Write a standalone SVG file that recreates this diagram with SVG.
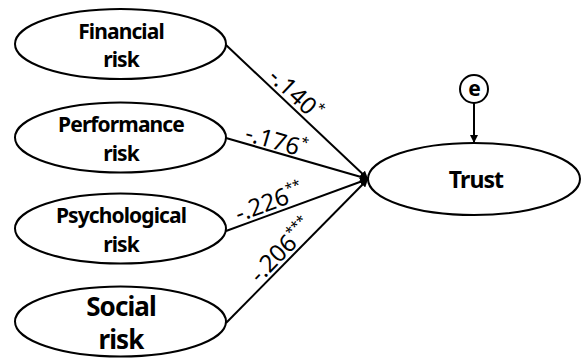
<svg xmlns="http://www.w3.org/2000/svg" width="581" height="358" viewBox="0 0 581 358">
<defs>
<style>
.node ellipse, .node circle { fill: #fff; stroke: #000; stroke-width: 2; }
.lbl { font-family: "Noto Sans", "Open Sans", "Liberation Sans", sans-serif; font-weight: bold; fill: #000; text-anchor: middle; letter-spacing: -0.9px; }
.conn line { stroke: #000; stroke-width: 2; }
.coef { font-family: "Noto Sans", "Open Sans", "Liberation Sans", sans-serif; font-size: 24px; fill: #000; text-anchor: middle; }
.sup { font-size: 14px; }
</style>
<marker id="arr" viewBox="0 0 10 10" refX="10" refY="5" markerWidth="4" markerHeight="4" orient="auto" markerUnits="strokeWidth">
<path d="M0,0 L10,5 L0,10 z" fill="#000"/>
</marker>
</defs>
<rect width="581" height="358" fill="#fff"/>
<g id="connectors" class="conn">
<line x1="226" y1="45" x2="368" y2="179" marker-end="url(#arr)"/>
<line x1="226" y1="138" x2="368" y2="179" marker-end="url(#arr)"/>
<line x1="226" y1="231" x2="368" y2="179" marker-end="url(#arr)"/>
<line x1="226" y1="323" x2="368" y2="179" marker-end="url(#arr)"/>
<line x1="474" y1="103" x2="474" y2="143" marker-end="url(#arr)"/>
<text class="coef" transform="translate(290,100) rotate(43.3)">-.140<tspan class="sup" dy="-10">*</tspan></text>
<text class="coef" transform="translate(274,149) rotate(16.1)">-.176<tspan class="sup" dy="-10">*</tspan></text>
<text class="coef" transform="translate(272,210) rotate(-20.1)">-.226<tspan class="sup" dy="-10">**</tspan></text>
<text class="coef" transform="translate(287,256) rotate(-45.4)">-.206<tspan class="sup" dy="-10">***</tspan></text>
</g>
<g id="financial" class="node">
<ellipse cx="120.5" cy="44" rx="105.5" ry="35"/>
<text class="lbl" x="121" y="39" font-size="21">Financial</text>
<text class="lbl" x="121" y="67" font-size="21">risk</text>
</g>
<g id="performance" class="node">
<ellipse cx="120.5" cy="137.5" rx="105.5" ry="35"/>
<text class="lbl" x="121" y="132" font-size="21">Performance</text>
<text class="lbl" x="121" y="161" font-size="21">risk</text>
</g>
<g id="psychological" class="node">
<ellipse cx="120.5" cy="228.5" rx="105.5" ry="35"/>
<text class="lbl" x="121" y="223" font-size="21">Psychological</text>
<text class="lbl" x="121" y="252" font-size="21">risk</text>
</g>
<g id="social" class="node">
<ellipse cx="120.5" cy="321.5" rx="105.5" ry="35"/>
<text class="lbl" x="121" y="316" font-size="26">Social</text>
<text class="lbl" x="121" y="349" font-size="26">risk</text>
</g>
<g id="trust" class="node">
<ellipse cx="474" cy="179" rx="106" ry="36"/>
<text class="lbl" x="476" y="188" font-size="23">Trust</text>
</g>
<g id="e" class="node">
<circle cx="474" cy="89" r="14"/>
<text class="lbl" x="474" y="96" font-size="21">e</text>
</g>
</svg>
